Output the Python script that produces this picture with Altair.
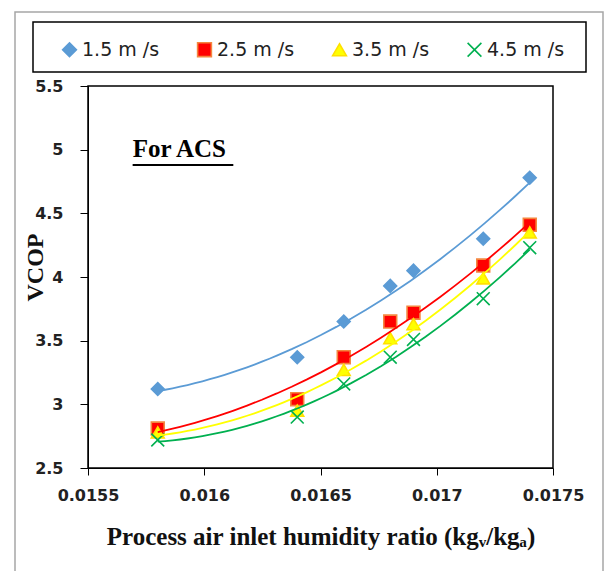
import altair as alt
import pandas as pd

# Process air inlet humidity ratio (kg_v/kg_a)
humidity = [0.0158, 0.0164, 0.0166, 0.0168, 0.0169, 0.0172, 0.0174]

# VCOP for each air velocity
vcop_15 = [3.12, 3.37, 3.65, 3.93, 4.05, 4.30, 4.78]
vcop_25 = [2.81, 3.04, 3.37, 3.65, 3.72, 4.09, 4.41]
vcop_35 = [2.78, 2.95, 3.27, 3.52, 3.63, 3.99, 4.35]
vcop_45 = [2.72, 2.90, 3.16, 3.37, 3.51, 3.83, 4.23]

series_names = ["1.5 m /s", "2.5 m /s", "3.5 m /s", "4.5 m /s"]
x_ticks = [0.0155, 0.016, 0.0165, 0.017, 0.0175]
y_ticks = [2.5, 3, 3.5, 4, 4.5, 5, 5.5]

fill_colors = ["#5B9BD5", "#FF0000", "#FFFF00", "#00B050"]
stroke_colors = ["#5B9BD5", "#F4863F", "#FFE000", "#00B050"]
line_colors = ["#5B9BD5", "#FF0000", "#FFFF00", "#00B050"]
shapes = ["diamond", "square", "triangle-up", "M-1,-1L1,1M-1,1L1,-1"]

rows = []
for name, vals in zip(series_names, [vcop_15, vcop_25, vcop_35, vcop_45]):
    for xv, yv in zip(humidity, vals):
        rows.append({"series": name, "w": xv, "vcop": yv})
df = pd.DataFrame(rows)

x_scale = alt.Scale(domain=[0.0155, 0.0175], nice=False, zero=False)
y_scale = alt.Scale(domain=[2.5, 5.5], nice=False, zero=False)

x_enc = alt.X(
    "w:Q", scale=x_scale,
    axis=alt.Axis(
        values=x_ticks, format=".4~f", grid=False,
        title="Process air inlet humidity ratio (kgᵥ/kgₐ)",
        titleFont="Liberation Serif", titleFontSize=25, titleFontWeight="bold",
        titleColor="#111", titleBaseline="alphabetic", titleY=76,
        labelFont="DejaVu Sans", labelFontSize=16, labelFontWeight="bold",
        labelColor="#222", labelPadding=12, tickSize=7, tickColor="#000",
        domainColor="#000", labelFlush=False,
    ),
)
y_enc = alt.Y(
    "vcop:Q", scale=y_scale,
    axis=alt.Axis(
        values=y_ticks, format=".1~f", grid=False,
        title="VCOP", titleFont="Liberation Serif", titleFontSize=24,
        titleFontWeight="bold", titleColor="#111", titleAngle=270,
        titleBaseline="alphabetic", titleAlign="center", titleX=-46, titleY=181,
        labelFont="DejaVu Sans", labelFontSize=16, labelFontWeight="bold",
        labelColor="#222", labelPadding=17, tickSize=8, tickColor="#000",
        domainColor="#000", labelFlush=False,
    ),
)

legend = alt.Legend(
    title=None, orient="none", direction="horizontal",
    legendX=-28, legendY=-46,
    labelFont="DejaVu Sans", labelFontSize=19, labelColor="#222",
    symbolSize=190, symbolStrokeWidth=1.6, labelOffset=3, columnPadding=34,
)

points = alt.Chart(df).mark_point(filled=True, size=165, strokeWidth=1.6, opacity=1).encode(
    x=x_enc,
    y=y_enc,
    fill=alt.Fill("series:N", scale=alt.Scale(domain=series_names, range=fill_colors), legend=legend),
    stroke=alt.Stroke("series:N", scale=alt.Scale(domain=series_names, range=stroke_colors), legend=legend),
    shape=alt.Shape("series:N", scale=alt.Scale(domain=series_names, range=shapes), legend=legend),
)

# second-order polynomial trend line for each velocity
trend = alt.Chart(df).transform_regression(
    "w", "vcop", method="poly", order=2, groupby=["series"]
).mark_line(strokeWidth=1.8).encode(
    x=alt.X("w:Q", scale=x_scale),
    y=alt.Y("vcop:Q", scale=y_scale),
    color=alt.Color("series:N", scale=alt.Scale(domain=series_names, range=line_colors), legend=None),
)

# "For ACS" note with its underline
note_df = pd.DataFrame({"w": [0.015692], "vcop": [4.943], "w2": [0.016125], "u": [4.88], "txt": ["For ACS"]})
note = alt.Chart(note_df).mark_text(
    font="Liberation Serif", fontSize=25, fontWeight="bold", color="#000",
    align="left", baseline="alphabetic",
).encode(x=alt.X("w:Q", scale=x_scale), y=alt.Y("vcop:Q", scale=y_scale), text="txt:N")
underline = alt.Chart(note_df).mark_rule(color="#000", strokeWidth=2).encode(
    x=alt.X("w:Q", scale=x_scale), x2="w2:Q", y=alt.Y("u:Q", scale=y_scale)
)

# legend box and outer chart border
legend_box = alt.Chart(pd.DataFrame({"k": [0]})).mark_rect(
    fill=None, stroke="#000", strokeWidth=1.5
).encode(x=alt.value(-55), x2=alt.value(498), y=alt.value(-64), y2=alt.value(-14))
outer_box = alt.Chart(pd.DataFrame({"k": [0]})).mark_rect(
    fill=None, stroke="#A6A6A6", strokeWidth=1.5
).encode(x=alt.value(-73), x2=alt.value(515), y=alt.value(-74), y2=alt.value(495))

chart = alt.layer(outer_box, legend_box, points, trend, underline, note).properties(
    width=465, height=382,
    padding={"left": 88, "top": 86, "right": 52, "bottom": 103},
    autosize="none", background="white",
).configure_view(stroke="#000", strokeWidth=1.5).resolve_scale(color="independent")

chart.save("out.html", embed_options={"renderer": "svg", "actions": False})
